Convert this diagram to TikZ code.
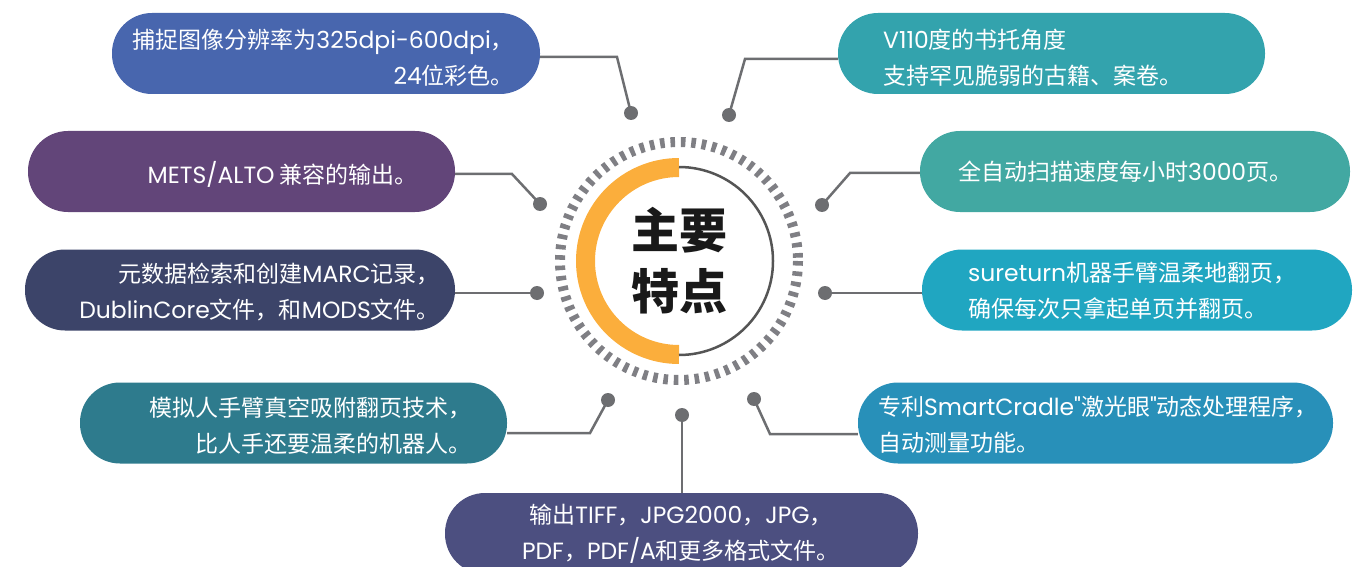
\documentclass[tikz,border=0pt]{standalone}
\usepackage{fontspec}
\newfontfamily\cjkf{Noto Sans CJK SC}
\newfontfamily\latf{Poppins}[Scale=1.02]
\newcommand{\lt}[1]{{\latf #1}}
\definecolor{cA}{HTML}{4866AE}
\definecolor{cB}{HTML}{33A3AD}
\definecolor{cC}{HTML}{624579}
\definecolor{cD}{HTML}{3C4469}
\definecolor{cE}{HTML}{42A8A2}
\definecolor{cF}{HTML}{20A6C1}
\definecolor{cG}{HTML}{2E7B8D}
\definecolor{cH}{HTML}{2890B9}
\definecolor{cI}{HTML}{4C4F80}
\definecolor{lineg}{HTML}{6D6E71}
\definecolor{ringg}{HTML}{7F7F84}
\definecolor{orangec}{HTML}{FBAE3C}
\definecolor{arcg}{HTML}{555555}
\tikzset{
  pill/.style={rectangle, rounded corners=40pt, minimum height=81pt, inner sep=0pt, draw=none},
  txt/.style={text=white, inner sep=0pt, font=\cjkf\fontsize{23}{36}\selectfont},
  dotn/.style={circle, fill=lineg, minimum size=14pt, inner sep=0pt},
  conn/.style={draw=lineg, line width=2.5pt},
}
\begin{document}
\begin{tikzpicture}[x=1pt,y=-1pt]
\useasboundingbox (0,0) rectangle (1355,567);
\clip (0,0) rectangle (1355,567);
% pills
\node[pill, fill=cA, minimum width=428pt] (p1) at (326,53.5) {};
\node[pill, fill=cB, minimum width=427pt] (p2) at (1051.5,53.5) {};
\node[pill, fill=cC, minimum width=427pt] (p3) at (241.5,171.5) {};
\node[pill, fill=cD, minimum width=430pt] (p4) at (240,290) {};
\node[pill, fill=cE, minimum width=430pt] (p5) at (1135,171.5) {};
\node[pill, fill=cF, minimum width=430pt] (p6) at (1137,290) {};
\node[pill, fill=cG, minimum width=427pt] (p7) at (293.5,423) {};
\node[pill, fill=cH, minimum width=475pt] (p8) at (1095.5,423) {};
\node[pill, fill=cI, minimum width=473pt] (p9) at (681.5,533.5) {};
% texts
\node[txt, align=right, anchor=east] (t1) at (514,58) {捕捉图像分辨率为\lt{325dpi-600dpi}，\\\lt{24}位彩色。};
\node[txt, align=left, anchor=west] (t2) at (883,58) {\lt{V110}度的书托角度\\支持罕见脆弱的古籍、案卷。};
\node[txt, anchor=east] (t3) at (418,174) {\lt{METS/ALTO} 兼容的输出。};
\node[txt, align=right, anchor=east] (t4) at (440,292) {元数据检索和创建\lt{MARC}记录，\\\lt{DublinCore}文件，和\lt{MODS}文件。};
\node[txt, anchor=west] (t5) at (958,172) {全自动扫描速度每小时\lt{3000}页。};
\node[txt, align=left, anchor=west] (t6) at (968,291) {\lt{sureturn}机器手臂温柔地翻页，\\确保每次只拿起单页并翻页。};
\node[txt, align=right, anchor=east] (t7) at (472,426) {模拟人手臂真空吸附翻页技术，\\比人手还要温柔的机器人。};
\node[txt, align=left, anchor=west] (t8) at (878,425) {专利\lt{SmartCradle"}激光眼\lt{"}动态处理程序，\\自动测量功能。};
\node[txt, align=center, anchor=center] (t9) at (681,534) {输出\lt{TIFF}，\lt{JPG2000}，\lt{JPG}，\\\lt{PDF}，\lt{PDF/A}和更多格式文件。};
% center
\coordinate (c) at (679,261);
\draw[ringg, line width=10pt, dash pattern=on 4.6pt off 5.82pt] (c) circle (119);
\draw[orangec, line width=19pt] (c) ++(90:93.5) arc[start angle=90, end angle=270, radius=93.5];
\draw[arcg, line width=2.5pt] (c) ++(-90:94) arc[start angle=-90, end angle=90, radius=94];
\node[font=\cjkf\fontsize{48}{61}\selectfont\bfseries, align=center, inner sep=0pt, text=black!90] (title) at (c) {主要\\特点};
% dots
\node[dotn] (d1) at (631,113) {};
\node[dotn] (d2) at (729,115) {};
\node[dotn] (d3) at (540,204) {};
\node[dotn] (d4) at (537,293) {};
\node[dotn] (d5) at (822,205) {};
\node[dotn] (d6) at (825,293) {};
\node[dotn] (d7) at (608,400) {};
\node[dotn] (d8) at (754,399) {};
\node[dotn] (d9) at (682,415) {};
% connectors
\coordinate (k1) at (617,57);
\coordinate (k2) at (745,59);
\coordinate (k3) at (512,174);
\coordinate (k5) at (850,173);
\coordinate (k7) at (590,433);
\coordinate (k8) at (770,434);
\draw[conn] (p1.east |- k1) -- (k1) -- (d1.center);
\draw[conn] (p2.west |- k2) -- (k2) -- (d2.center);
\draw[conn] (p3.east |- k3) -- (k3) -- (d3.center);
\draw[conn] (p4.east |- d4) -- (d4.center);
\draw[conn] (p5.west |- k5) -- (k5) -- (d5.center);
\draw[conn] (p6.west |- d6) -- (d6.center);
\draw[conn] (p7.east |- k7) -- (k7) -- (d7.center);
\draw[conn] (p8.west |- k8) -- (k8) -- (d8.center);
\draw[conn] (d9.center) -- (p9.north -| d9);
\end{tikzpicture}
\end{document}
